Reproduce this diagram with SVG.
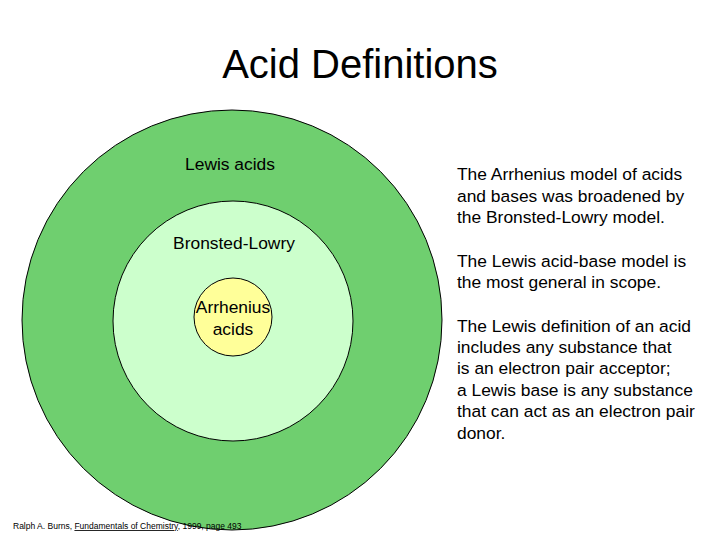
<svg xmlns="http://www.w3.org/2000/svg" width="720" height="540" viewBox="0 0 720 540">
<style>
text{font-family:"Liberation Sans",Arial,sans-serif;fill:#000}
.c{stroke:#000;stroke-width:1}
.t{font-size:17.4px}
</style>
<rect width="720" height="540" fill="#fff"/>
<text x="360" y="78" font-size="40" text-anchor="middle">Acid Definitions</text>
<g id="lewis"><circle class="c" cx="232" cy="320" r="210" fill="#6fcf6f"/><text class="t" x="230" y="170" text-anchor="middle">Lewis acids</text></g>
<g id="bronsted"><circle class="c" cx="233" cy="321" r="120" fill="#ccffcc"/><text class="t" x="234" y="249" text-anchor="middle">Bronsted-Lowry</text></g>
<g id="arrhenius"><circle class="c" cx="233" cy="317" r="39" fill="#ffff99"/><text class="t" x="233" y="313" text-anchor="middle">Arrhenius</text><text class="t" x="233" y="335" text-anchor="middle">acids</text></g>
<g id="connectors"/>
<g class="t">
<text x="457" y="180">The Arrhenius model of acids</text>
<text x="457" y="202">and bases was broadened by</text>
<text x="457" y="223">the Bronsted-Lowry model.</text>
<text x="457" y="267">The Lewis acid-base model is</text>
<text x="457" y="288">the most general in scope.</text>
<text x="457" y="332">The Lewis definition of an acid</text>
<text x="457" y="353">includes any substance that</text>
<text x="457" y="374">is an electron pair acceptor;</text>
<text x="457" y="396">a Lewis base is any substance</text>
<text x="457" y="417">that can act as an electron pair</text>
<text x="457" y="439">donor.</text>
</g>
<text x="13" y="529" font-size="8.5">Ralph A. Burns, <tspan text-decoration="underline">Fundamentals of Chemistry</tspan>, 1999, page 493</text>
</svg>
